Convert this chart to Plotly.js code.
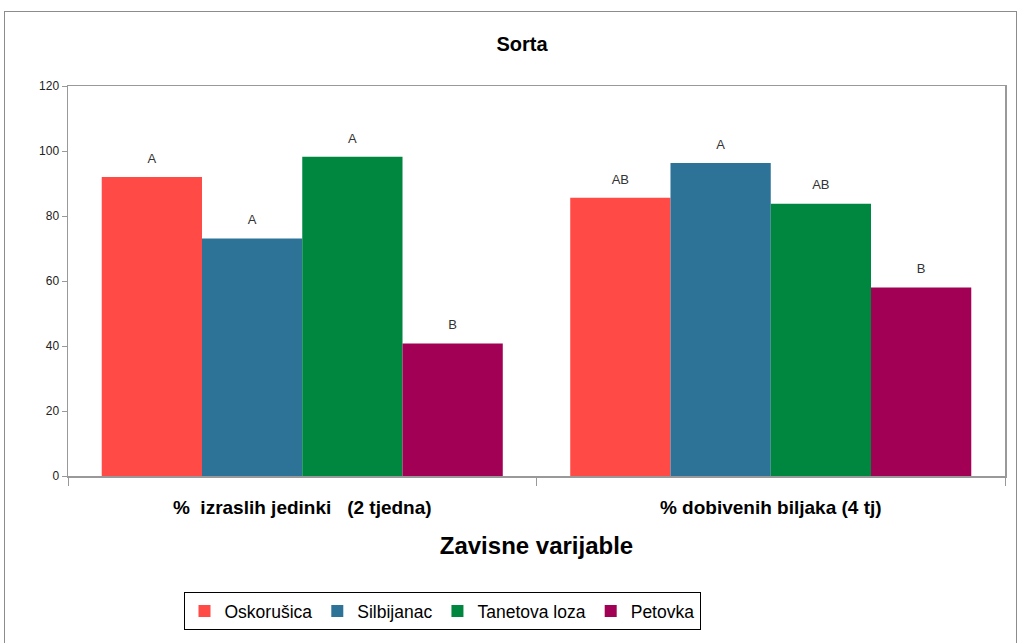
<!DOCTYPE html>
<html>
<head>
<meta charset="utf-8">
<script src="https://cdn.plot.ly/plotly-3.0.1.min.js"></script>
<style>
html,body{margin:0;padding:0;background:#fff;}
#wrap{position:relative;width:1019px;height:643px;}
#chart{width:1019px;height:643px;}
#frame{position:absolute;left:4px;top:11px;width:1011px;height:640px;border:1px solid #8c8c8c;pointer-events:none;}
</style>
</head>
<body>
<div id="wrap"><div id="chart"></div><div id="frame"></div></div>
<script>
const categories = ["% &nbsp;izraslih jedinki &nbsp; (2 tjedna)", "% dobivenih biljaka (4 tj)"];
const seriesNames = ["Oskorušica", "Silbijanac", "Tanetova loza", "Petovka"];
const oskorusica = [92, 85.6];
const silbijanac = [73.1, 96.3];
const tanetova = [98.2, 83.8];
const petovka = [40.8, 58];
const letters = {
  "Oskorušica": ["A", "AB"],
  "Silbijanac": ["A", "A"],
  "Tanetova loza": ["A", "AB"],
  "Petovka": ["B", "B"]
};
const colors = ["#FF4A46", "#2C7397", "#00873F", "#A20055"];
const yTicks = [0, 20, 40, 60, 80, 100, 120];

const values = [oskorusica, silbijanac, tanetova, petovka];
const bars = seriesNames.map((name, i) => ({
  type: "bar",
  name: name,
  x: categories,
  y: values[i],
  marker: {color: colors[i], line: {width: 0}},
  hoverinfo: "none"
}));
const labels = seriesNames.map((name, i) => ({
  type: "scatter",
  mode: "markers+text",
  x: categories,
  y: values[i],
  text: letters[name],
  textposition: "top center",
  marker: {size: 16, opacity: 0, color: colors[i]},
  textfont: {family: "Liberation Sans, Arial, sans-serif", size: 13, color: "#333"},
  cliponaxis: false,
  showlegend: false,
  hoverinfo: "none"
}));

const layout = {
  width: 1019, height: 643,
  margin: {l: 68, r: 14, t: 86, b: 167},
  paper_bgcolor: "#fff", plot_bgcolor: "#fff",
  barmode: "group", bargap: 0.144, bargroupgap: 0,
  scattermode: "group", scattergap: 0.144,
  showlegend: true,
  title: {text: "<b>Sorta</b>", x: 522/1019, xref: "container", xanchor: "center", y: 1 - 44/643, yanchor: "middle",
          font: {family: "Liberation Sans, Arial, sans-serif", size: 20, color: "#000"}},
  font: {family: "Liberation Sans, Arial, sans-serif", color: "#000"},
  xaxis: {
    type: "category",
    tickson: "boundaries",
    ticks: "outside", ticklen: 8, tickcolor: "#999",
    showline: true, linecolor: "#999", linewidth: 1.5, mirror: true,
    showgrid: false,
    tickfont: {family: "Liberation Sans, Arial, sans-serif", size: 19, color: "#000", weight: "bold"},
    ticklabelstandoff: 14,
    title: {text: "<b>Zavisne varijable</b>", standoff: 20,
            font: {family: "Liberation Sans, Arial, sans-serif", size: 24, color: "#000"}}
  },
  yaxis: {
    range: [0, 120], tickvals: yTicks, ticktext: yTicks.map(String),
    ticks: "outside", ticklen: 5, tickcolor: "#999",
    showline: true, linecolor: "#999", linewidth: 1.5, mirror: true,
    showgrid: false, zeroline: false,
    tickfont: {family: "Liberation Sans, Arial, sans-serif", size: 12, color: "#222"}
  },
  legend: {
    orientation: "h", x: 442/1019, xref: "container", xanchor: "center",
    y: 1 - 611/643, yref: "container", yanchor: "middle",
    bordercolor: "#000", borderwidth: 1,
    font: {family: "Liberation Sans, Arial, sans-serif", size: 17.5, color: "#000"},
    traceorder: "normal"
  }
};

Plotly.newPlot("chart", bars.concat(labels), layout, {displayModeBar: false, staticPlot: true});
</script>
</body>
</html>
